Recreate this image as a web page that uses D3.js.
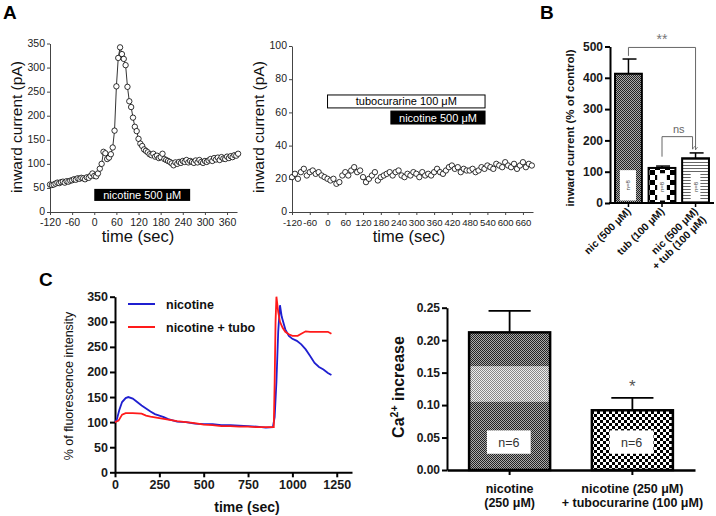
<!DOCTYPE html>
<html><head><meta charset="utf-8">
<script src="https://cdn.jsdelivr.net/npm/d3@7"></script>
<style>
body{margin:0;background:#fff}
svg{display:block}
text{font-family:"Liberation Sans",Arial,Helvetica,sans-serif}
</style>
</head><body>
<svg id="c" width="716" height="516"></svg>
<script>
// ---------------- DATA ----------------
// Panel A left: whole-cell current, nicotine 500 µM (5 s sampling)
const aLeftTime = d3.range(-120, 395, 5);
const aLeftCurrent = [57,56,57,59,61,60,62,63,61,64,63,65,66,68,67,70,69,71,70,68,72,71,75,80,
  75,74,80,90,100,125,122,110,113,120,134,169,261,320,342,328,318,305,260,230,218,196,177,168,152,142,
  137,130,127,124,120,118,121,115,117,112,114,121,110,108,106,104,101,97,103,100,104,102,106,104,108,103,
  106,104,102,107,103,108,104,102,106,104,107,110,106,112,109,113,108,114,111,110,115,112,116,114,118,117,121];
const aLeftTicksX = [-120,-60,0,60,120,180,240,300,360];
const aLeftTicksY = [0,50,100,150,200,250,300,350];
const aLeftDrug = {label:"nicotine 500 μM", start:0, end:260, lo:23, hi:48};

// Panel A right: tubocurarine pre-application then nicotine (10 s sampling)
const aRightTime = d3.range(-120, 700, 10);
const aRightCurrent = [21,23,20,24,26,22,24,25,23,24,22,21,20,19,20,17,18,22,24,22,25,27,24,25,21,18,20,22,24,19,
  21,22,23,24,22,24,25,22,21,23,22,24,23,21,24,22,23,22,24,26,24,23,25,27,28,26,27,24,26,25,25,26,24,25,27,26,
  28,27,26,29,28,27,30,28,27,29,26,28,30,27,29,28];
const aRightTicksX = [-120,-60,0,60,120,180,240,300,360,420,480,540,600,660];
const aRightTicksY = [0,20,40,60,80,100];
const aRightTubo = {label:"tubocurarine 100 μM", start:0, end:532, lo:62.7, hi:70.5};
const aRightNic = {label:"nicotine 500 μM", start:214, end:532, lo:53, hi:60.8};

// Panel B: summary bars
const bCategories = [["nic (500 μM)"], ["tub (100 μM)"], ["nic (500 μM)", "+ tub (100 μM)"]];
const bMeans = [413, 112, 143];
const bErrors = [47, 6, 17];
const bN = ["n=8","n=8","n=8"];
const bTicks = [0,100,200,300,400,500];

// Panel C left: fluorescence traces
const cTimeNic = [0,10,25,40,60,75,100,125,150,175,200,225,250,275,300,350,400,450,500,550,600,650,700,750,800,850,890,
  900,910,920,930,940,960,980,1000,1025,1050,1075,1100,1125,1150,1175,1200,1220];
const cNic = [100,105,125,140,148,150,147,140,133,127,121,116,113,110,106,101,100,97,96,96,94,94,93,92,91,89,90,
  110,180,280,333,310,285,272,266,262,255,245,232,218,210,205,198,194];
const cTimeTubo = [0,20,40,60,100,150,175,200,250,300,350,400,450,500,550,600,650,700,750,800,850,895,
  900,905,910,920,930,945,960,980,1000,1030,1050,1075,1100,1150,1200,1220];
const cTubo = [100,103,115,118,118,117,113,111,108,105,102,100,98,95,94,92,92,91,91,90,90,90,
  180,300,350,320,300,288,280,275,272,272,276,281,280,280,280,276];
const cTicksX = [0,250,500,750,1000,1250];
const cTicksY = [0,50,100,150,200,250,300,350];
const cSeries = [{name:"nicotine", color:"#1f1fd0"}, {name:"nicotine + tubo", color:"#ff1a1a"}];

// Panel C right: Ca2+ increase bars
const dCategories = [["nicotine","(250 μM)"], ["nicotine (250 μM)","+ tubocurarine (100 μM)"]];
const dMeans = [0.212, 0.092];
const dErrors = [0.033, 0.019];
const dN = ["n=6","n=6"];
const dTicks = [0,0.05,0.10,0.15,0.20,0.25];

// ---------------- DRAW ----------------
const svg = d3.select("#c");
const defs = svg.append("defs");
const plain = d => String(d);

function checker(id, cell, c1, c2){
  const p = defs.append("pattern").attr("id", id).attr("patternUnits","userSpaceOnUse")
    .attr("width", cell*2).attr("height", cell*2);
  p.append("rect").attr("width", cell*2).attr("height", cell*2).attr("fill", c2);
  p.append("rect").attr("width", cell).attr("height", cell).attr("fill", c1);
  p.append("rect").attr("x", cell).attr("y", cell).attr("width", cell).attr("height", cell).attr("fill", c1);
}
checker("pFine", 1, "#222", "#aaa");
checker("pFineLight", 1, "#888", "#eee");
checker("pCoarseB", 5, "#000", "#fff");
checker("pCoarseC", 3, "#000", "#fff");
{
  const p = defs.append("pattern").attr("id","pStripe").attr("patternUnits","userSpaceOnUse")
    .attr("width", 4).attr("height", 3);
  p.append("rect").attr("width",4).attr("height",3).attr("fill","#fff");
  p.append("rect").attr("width",4).attr("height",1).attr("fill","#666");
}
defs.append("marker").attr("id","arrow").attr("viewBox","-4 -5 8 6").attr("refX",0).attr("refY",0)
  .attr("markerWidth",6).attr("markerHeight",5).attr("orient","auto-start-reverse").attr("markerUnits","userSpaceOnUse")
  .append("path").attr("d","M-3,-4L0,0L3,-4").attr("fill","none").attr("stroke","#666").attr("stroke-width",1)
  .attr("transform","rotate(-90)");

// panel letters
svg.append("text").attr("x",3).attr("y",19).attr("font-size",19).attr("font-weight","bold").text("A");
svg.append("text").attr("x",540).attr("y",19).attr("font-size",19).attr("font-weight","bold").text("B");
svg.append("text").attr("x",39).attr("y",286).attr("font-size",19).attr("font-weight","bold").text("C");

function styleThin(g, fs){
  g.selectAll("path.domain").attr("stroke","#444").attr("stroke-width",1);
  g.selectAll(".tick line").attr("stroke","#444").attr("stroke-width",1);
  g.selectAll(".tick text").attr("fill","#222").attr("font-size",fs||10.5)
    .attr("font-family","'Liberation Sans',Arial,sans-serif");
}
function styleBold(g, fs){
  g.selectAll("path.domain").attr("stroke","#000").attr("stroke-width",2);
  g.selectAll(".tick line").attr("stroke","#000").attr("stroke-width",2);
  g.selectAll(".tick text").attr("fill","#1a1a1a").attr("font-size",fs).attr("font-weight","bold")
    .attr("font-family","'Liberation Sans',Arial,sans-serif");
}

// ===== Panel A left =====
{
  const x = d3.scaleLinear().domain([-120, 387]).range([50, 237]);
  const y = d3.scaleLinear().domain([0, 350]).range([212, 43.5]);
  const gx = svg.append("g").attr("transform","translate(0,212)")
    .call(d3.axisBottom(x).tickValues(aLeftTicksX).tickSize(3).tickSizeOuter(0).tickPadding(4).tickFormat(plain));
  styleThin(gx);
  const gy = svg.append("g").attr("transform","translate(50,0)")
    .call(d3.axisLeft(y).tickValues(aLeftTicksY).tickSize(3).tickSizeOuter(0).tickPadding(2).tickFormat(plain));
  styleThin(gy);
  gy.selectAll(".tick text").attr("dy","0.25em");
  svg.append("rect").attr("x", x(aLeftDrug.start)).attr("y", y(aLeftDrug.hi))
    .attr("width", x(aLeftDrug.end)-x(aLeftDrug.start)).attr("height", y(aLeftDrug.lo)-y(aLeftDrug.hi)).attr("fill","#000");
  svg.append("text").attr("x",(x(aLeftDrug.start)+x(aLeftDrug.end))/2).attr("y",(y(aLeftDrug.lo)+y(aLeftDrug.hi))/2+4)
    .attr("text-anchor","middle").attr("fill","#fff").attr("font-size",11).text(aLeftDrug.label);
  const pts = aLeftTime.map((t,i)=>[t, aLeftCurrent[i]]).filter(d=>d[1]!==undefined);
  svg.append("path").datum(pts).attr("fill","none").attr("stroke","#000").attr("stroke-width",0.8)
    .attr("d", d3.line().x(d=>x(d[0])).y(d=>y(d[1])));
  svg.append("g").selectAll("circle").data(pts).join("circle")
    .attr("cx",d=>x(d[0])).attr("cy",d=>y(d[1])).attr("r",2.7)
    .attr("fill","#fff").attr("stroke","#000").attr("stroke-width",0.8);
  svg.append("text").attr("transform","translate(22,127) rotate(-90)").attr("text-anchor","middle")
    .attr("font-size",15.5).attr("fill","#111").text("inward current (pA)");
  svg.append("text").attr("x",138).attr("y",242).attr("text-anchor","middle")
    .attr("font-size",16.5).attr("fill","#111").text("time (sec)");
}

// ===== Panel A right =====
{
  const x = d3.scaleLinear().domain([-120, 694]).range([292, 533]);
  const y = d3.scaleLinear().domain([0, 100]).range([212, 46]);
  const gx = svg.append("g").attr("transform","translate(0,212)")
    .call(d3.axisBottom(x).tickValues(aRightTicksX).tickSize(3).tickSizeOuter(0).tickPadding(4).tickFormat(plain));
  styleThin(gx, 9.6);
  const gy = svg.append("g").attr("transform","translate(292,0)")
    .call(d3.axisLeft(y).tickValues(aRightTicksY).tickSize(3).tickSizeOuter(0).tickPadding(2).tickFormat(plain));
  styleThin(gy);
  gy.selectAll(".tick text").attr("dy","0.25em");
  [aRightTubo, aRightNic].forEach((b,i)=>{
    svg.append("rect").attr("x", x(b.start)).attr("y", y(b.hi))
      .attr("width", x(b.end)-x(b.start)).attr("height", y(b.lo)-y(b.hi))
      .attr("fill", i===0?"#fff":"#000").attr("stroke","#000").attr("stroke-width",1);
    svg.append("text").attr("x",(x(b.start)+x(b.end))/2).attr("y",(y(b.lo)+y(b.hi))/2+4)
      .attr("text-anchor","middle").attr("fill", i===0?"#000":"#fff").attr("font-size",11).text(b.label);
  });
  const pts = aRightTime.map((t,i)=>[t, aRightCurrent[i]]).filter(d=>d[1]!==undefined);
  svg.append("g").selectAll("circle").data(pts).join("circle")
    .attr("cx",d=>x(d[0])).attr("cy",d=>y(d[1])).attr("r",2.7)
    .attr("fill","#fff").attr("stroke","#000").attr("stroke-width",0.8);
  svg.append("text").attr("transform","translate(264,127) rotate(-90)").attr("text-anchor","middle")
    .attr("font-size",15.5).attr("fill","#111").text("inward current (pA)");
  svg.append("text").attr("x",409).attr("y",242).attr("text-anchor","middle")
    .attr("font-size",16.5).attr("fill","#111").text("time (sec)");
}

// ===== Panel B =====
{
  const x = d3.scaleBand().domain(d3.range(bMeans.length)).range([610, 714]).paddingInner(0.2).paddingOuter(0.15);
  const y = d3.scaleLinear().domain([0, 500]).range([203, 46.5]);
  const fills = ["url(#pFine)","url(#pCoarseB)","url(#pStripe)"];
  const g = svg.append("g");
  bMeans.forEach((m,i)=>{
    const cx = x(i) + x.bandwidth()/2;
    g.append("line").attr("x1",cx).attr("x2",cx).attr("y1",y(m)).attr("y2",y(m+bErrors[i])).attr("stroke","#000").attr("stroke-width",1.5);
    g.append("line").attr("x1",cx-x.bandwidth()*0.22).attr("x2",cx+x.bandwidth()*0.3).attr("y1",y(m+bErrors[i])).attr("y2",y(m+bErrors[i])).attr("stroke","#000").attr("stroke-width",1.5);
    g.append("rect").attr("x",x(i)).attr("y",y(m)).attr("width",x.bandwidth()).attr("height",y(0)-y(m))
      .attr("fill",fills[i]).attr("stroke","#000").attr("stroke-width",2);
    const bw = x.bandwidth()*(i===0?0.6:0.36);
    const bxx = i===0? x(i)+x.bandwidth()*0.18 : cx - bw/2;
    const top = i===0?105:95;
    g.append("rect").attr("x",bxx).attr("y",y(top)).attr("width",bw).attr("height",y(8)-y(top)).attr("fill","#fff");
    g.append("text").attr("transform",`translate(${bxx+bw/2+2},${(y(8)+y(top))/2}) rotate(-90)`)
      .attr("text-anchor","middle").attr("font-size",6).attr("fill","#444").text(bN[i]);
  });
  const gx = svg.append("g").attr("transform","translate(0,203)")
    .call(d3.axisBottom(x).tickSize(4).tickSizeOuter(0).tickFormat(""));
  gx.selectAll("path.domain").attr("stroke","#000").attr("stroke-width",2).attr("d","M609,0H714");
  gx.selectAll(".tick line").attr("stroke","#000").attr("stroke-width",1.5);
  const gy = svg.append("g").attr("transform","translate(610,0)")
    .call(d3.axisLeft(y).tickValues(bTicks).tickSize(5).tickSizeOuter(0).tickPadding(2).tickFormat(plain));
  styleBold(gy, 12);
  bCategories.forEach((lines,i)=>{
    const cx = x(i) + x.bandwidth()/2;
    const t = svg.append("text").attr("transform",`translate(${cx+3},${212}) rotate(-45)`)
      .attr("text-anchor","end").attr("font-size",10.5).attr("font-weight","bold").attr("fill","#111");
    lines.forEach((s,j)=>t.append("tspan").attr("x",0).attr("dy", j===0?"0":"1.1em").text(s));
  });
  svg.append("text").attr("transform","translate(574,128) rotate(-90)").attr("text-anchor","middle")
    .attr("font-size",11.5).attr("font-weight","bold").attr("fill","#111").text("inward current (% of control)");
  const c0 = x(0)+x.bandwidth()/2, c1 = x(1)+x.bandwidth()/2, c2 = x(2)+x.bandwidth()/2;
  const gs = svg.append("g").attr("fill","none").attr("stroke","#666").attr("stroke-width",1);
  gs.append("path").attr("d",`M${c0},${y(470)}V${y(497)}H${c2}V${y(bMeans[2]+bErrors[2]+10)}`).attr("marker-end","url(#arrow)");
  gs.append("path").attr("d",`M${c1},${y(bMeans[1]+bErrors[1]+30)}V${y(212)}H${c2-3}V${y(bMeans[2]+bErrors[2]+12)}`).attr("marker-end","url(#arrow)");
  svg.append("text").attr("x",(c0+c2)/2).attr("y",y(497)-3).attr("text-anchor","middle").attr("font-size",14).attr("fill","#777").text("**");
  svg.append("text").attr("x",(c1+c2)/2).attr("y",y(212)-4).attr("text-anchor","middle").attr("font-size",11).attr("fill","#666").text("ns");
}

// ===== Panel C left =====
{
  const x = d3.scaleLinear().domain([0, 1336]).range([115, 352]);
  const y = d3.scaleLinear().domain([0, 350]).range([472.3, 296.7]);
  const gx = svg.append("g").attr("transform","translate(0,472.3)")
    .call(d3.axisBottom(x).tickValues(cTicksX).tickSize(5).tickSizeOuter(0).tickPadding(3).tickFormat(plain));
  styleBold(gx, 12.5);
  const gy = svg.append("g").attr("transform","translate(115,0)")
    .call(d3.axisLeft(y).tickValues(cTicksY).tickSize(5).tickSizeOuter(0).tickPadding(2).tickFormat(plain));
  styleBold(gy, 12.5);
  const line = d3.line().x(d=>x(d[0])).y(d=>y(d[1]));
  svg.append("path").datum(cTimeNic.map((t,i)=>[t,cNic[i]])).attr("fill","none").attr("stroke",cSeries[0].color).attr("stroke-width",1.8).attr("d",line);
  svg.append("path").datum(cTimeTubo.map((t,i)=>[t,cTubo[i]])).attr("fill","none").attr("stroke",cSeries[1].color).attr("stroke-width",1.8).attr("d",line);
  cSeries.forEach((s,i)=>{
    const ly = 304 + i*23;
    svg.append("line").attr("x1",128).attr("x2",155).attr("y1",ly).attr("y2",ly).attr("stroke",s.color).attr("stroke-width",2);
    svg.append("text").attr("x",166).attr("y",ly+4.5).attr("font-size",12.5).attr("font-weight","bold").attr("fill","#111").text(s.name);
  });
  svg.append("text").attr("transform","translate(73,386) rotate(-90)").attr("text-anchor","middle")
    .attr("font-size",12.5).attr("fill","#111").text("% of fluorescence intensity");
  svg.append("text").attr("x",247).attr("y",512).attr("text-anchor","middle")
    .attr("font-size",14).attr("font-weight","bold").attr("fill","#111").text("time (sec)");
}

// ===== Panel C right =====
{
  const x = d3.scaleBand().domain(d3.range(dMeans.length)).range([447, 695]).paddingInner(0.34).paddingOuter(0.18);
  const y = d3.scaleLinear().domain([0, 0.25]).range([470, 307.7]);
  const fills = ["url(#pFine)","url(#pCoarseC)"];
  dMeans.forEach((m,i)=>{
    const cx = x(i)+x.bandwidth()/2;
    svg.append("line").attr("x1",cx).attr("x2",cx).attr("y1",y(m)).attr("y2",y(m+dErrors[i])).attr("stroke","#000").attr("stroke-width",1.8);
    svg.append("line").attr("x1",cx-x.bandwidth()*0.26).attr("x2",cx+x.bandwidth()*0.26).attr("y1",y(m+dErrors[i])).attr("y2",y(m+dErrors[i])).attr("stroke","#000").attr("stroke-width",1.8);
    svg.append("rect").attr("x",x(i)).attr("y",y(m)).attr("width",x.bandwidth()).attr("height",y(0)-y(m))
      .attr("fill",fills[i]).attr("stroke","#000").attr("stroke-width",2.5);
    if(i===0){
      svg.append("rect").attr("x",x(i)+1.5).attr("y",y(0.16)).attr("width",x.bandwidth()-3).attr("height",y(0.105)-y(0.16))
        .attr("fill","url(#pFineLight)");
    }
    const bx = x(i)+x.bandwidth()*0.22, bw = x.bandwidth()*0.54;
    svg.append("rect").attr("x",bx).attr("y",y(0.061)).attr("width",bw).attr("height",y(0.025)-y(0.061)).attr("fill","#fff");
    svg.append("text").attr("x",bx+bw/2).attr("y",(y(0.025)+y(0.061))/2+4.5).attr("text-anchor","middle")
      .attr("font-size",12.5).attr("fill","#333").text(dN[i]);
    const t = svg.append("text").attr("x",cx).attr("y",493).attr("text-anchor","middle")
      .attr("font-size",12.5).attr("font-weight","bold").attr("fill","#111");
    dCategories[i].forEach((s,j)=>t.append("tspan").attr("x",cx).attr("dy", j===0?"0":"1.15em").text(s));
  });
  const gx = svg.append("g").attr("transform","translate(0,470)")
    .call(d3.axisBottom(x).tickSize(5).tickSizeOuter(0).tickFormat(""));
  gx.selectAll("path.domain").attr("stroke","#000").attr("stroke-width",2.5);
  gx.selectAll(".tick line").attr("stroke","#000").attr("stroke-width",2);
  const gy = svg.append("g").attr("transform","translate(447,0)")
    .call(d3.axisLeft(y).tickValues(dTicks).tickSize(5).tickSizeOuter(0).tickPadding(2).tickFormat(d3.format(".2f")));
  styleBold(gy, 12);
  const cx1 = x(1)+x.bandwidth()/2;
  svg.append("text").attr("x",cx1).attr("y",y(dMeans[1]+dErrors[1])-6).attr("text-anchor","middle")
    .attr("font-size",17).attr("fill","#555").text("*");
  const yl = svg.append("text").attr("transform","translate(404,387) rotate(-90)").attr("text-anchor","middle")
    .attr("font-size",16).attr("font-weight","bold").attr("fill","#111");
  yl.append("tspan").text("Ca");
  yl.append("tspan").attr("font-size",10.5).attr("dy",-6).text("2+");
  yl.append("tspan").attr("dy",6).text(" increase");
}
</script>
</body></html>
